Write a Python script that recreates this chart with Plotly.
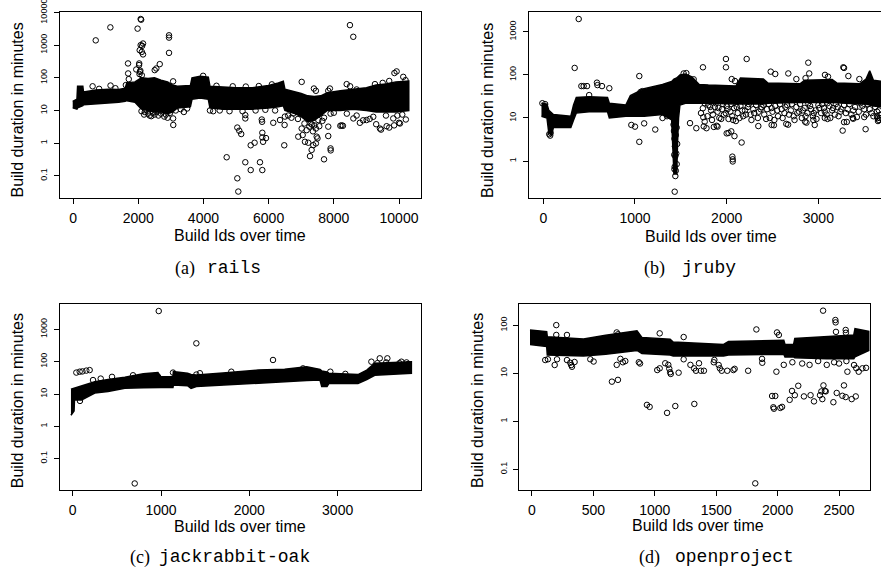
import plotly.graph_objects as go

W, H = 881, 577

# ---------------- (a) rails ----------------
rails_band_x  = [-10, 120, 140, 300, 320, 700, 1100, 1400, 1600, 1650, 1900, 2000, 2100, 2300, 2500, 2700, 2900, 3050, 3200, 3600, 3650, 3900, 4150, 4200, 4600, 5000, 5500, 6000, 6300, 6450, 6500, 6800, 7000, 7200, 7400, 7600, 7800, 8200, 8600, 9000, 9300, 9600, 9900, 10300]
rails_band_lo = [12, 11, 12, 14, 15, 16, 17, 18, 19, 20, 18, 14, 11, 10, 9, 9, 8, 9, 12, 13, 22, 24, 22, 12, 11, 11, 11, 12, 13, 14, 10, 8, 6.5, 4.5, 5, 7, 10, 10, 11, 10, 9, 9, 9, 10]
rails_band_hi = [19, 22, 55, 55, 37, 42, 45, 44, 48, 70, 75, 85, 100, 95, 100, 85, 75, 60, 55, 58, 100, 112, 105, 55, 52, 50, 50, 58, 70, 78, 45, 38, 33, 28, 27, 28, 35, 40, 45, 50, 60, 65, 75, 80]
rails_pts = [
    (696, 1400), (1145, 3500), (1687, 275), (1690, 136), (1710, 91), (1940, 180), (1980, 3200),
    (2025, 245), (2030, 275), (2050, 152), (2040, 130), (2075, 6300), (2090, 6000), (2075, 1000),
    (2147, 1120), (2120, 950), (2045, 700), (2110, 620), (2147, 520), (2065, 165), (2110, 120),
    (2505, 172), (2555, 193), (2660, 262), (2945, 2000), (2945, 1700), (2945, 580), (3070, 78),
    (3990, 115), (8495, 4100), (8597, 1800), (7015, 75), (7390, 47), (7450, 40), (7880, 47),
    (7830, 40), (8395, 64), (8500, 55), (8700, 44), (9262, 64), (9927, 157), (9860, 140),
    (10130, 107), (10200, 85), (9700, 80), (9500, 70), (600, 55), (1150, 58), (1620, 60),
    (2400, 6.7), (2300, 8), (2450, 8.5), (2200, 9), (2700, 8), (2850, 7.5), (3070, 5.7),
    (3075, 3.6), (3400, 9), (4200, 10), (4713, 0.37), (5040, 3.0), (5100, 2.4), (5160, 1.9),
    (5040, 0.084), (5070, 0.033), (5285, 7.2), (5285, 5.7), (5285, 0.26), (5450, 0.86),
    (5450, 0.15), (5570, 1.03), (5735, 0.26), (5807, 2.08), (5807, 1.5), (5830, 1.1),
    (5920, 1.43), (5807, 0.15), (5790, 5.3), (5800, 4.5), (6143, 4.2), (6350, 5.1), (6480, 0.86),
    (6490, 3.6), (6500, 6.5), (6757, 8.1), (6600, 7), (6910, 1.58), (7045, 1.77), (7015, 2.8),
    (7115, 1.1), (7217, 1.03), (7167, 2.5), (7270, 0.4), (7320, 0.62), (7370, 0.87), (7450, 0.98),
    (7475, 1.58), (7500, 1.4), (7450, 2.8), (7555, 3.3), (7525, 5.1), (7520, 7.5), (7290, 4),
    (7330, 3.7), (7360, 2.3), (7700, 0.32), (7830, 1.65), (7900, 0.69), (7905, 0.6), (7830, 3.2),
    (7700, 6), (7900, 8), (8200, 3.4), (8240, 3.5), (8280, 3.4), (8400, 8), (8600, 5.7),
    (8800, 4.2), (8700, 7), (9006, 5.1), (9210, 6.4), (9415, 2.8), (9450, 2.6), (9620, 3.3),
    (9825, 5.7), (10030, 4), (10210, 5.3), (9950, 7), (9100, 5.5), (8900, 5), (9300, 3.8),
    (9700, 3), (9850, 3.5), (10000, 4.2), (10100, 7.5), (9600, 7),
    (2100, 9.5), (2180, 7.5), (2250, 10.5), (2350, 7), (2500, 7.5), (2560, 9), (2620, 7),
    (2750, 9.5), (2800, 6.5), (2900, 6), (2980, 8.5), (3150, 10), (3300, 11), (3500, 11.5),
    (4300, 9.5), (4500, 10), (4800, 9.5), (5200, 9.5), (5600, 10), (5900, 10.5), (6200, 10),
    (6700, 6), (6900, 5.5), (7100, 4), (7250, 3.2), (7400, 3.5), (7650, 4.8), (8000, 8.5),
    (4400, 57), (4900, 55), (5300, 54), (5700, 56), (6100, 63), (800, 46), (1300, 48),
]

# ---------------- (b) jruby ----------------
jruby_band_x  = [-20, 40, 60, 90, 110, 300, 330, 360, 500, 700, 720, 900, 950, 1100, 1300, 1400, 1415, 1425, 1455, 1465, 1475, 1490, 1550, 1620, 1700, 1800, 2100, 2150, 2400, 2450, 2800, 2850, 3150, 3200, 3450, 3520, 3560, 3600, 3700]
jruby_band_lo = [11, 10, 4.5, 4, 6, 6, 9, 13, 14, 14, 10, 11, 11, 11, 12, 9, 2, 0.5, 0.5, 3, 10, 20, 22, 22, 22, 22, 21, 21, 21, 22, 23, 23, 23, 22, 21, 21, 20, 19, 18]
jruby_band_hi = [22, 21, 15, 13, 12, 11, 20, 30, 31, 30, 22, 20, 33, 48, 60, 70, 75, 80, 85, 90, 95, 100, 105, 90, 60, 58, 55, 85, 80, 65, 62, 75, 78, 65, 62, 80, 125, 75, 70]
jruby_pts = [
    (342, 145), (386, 1980), (415, 55), (440, 55), (477, 55), (500, 34), (585, 66), (590, 58),
    (640, 55), (720, 49), (960, 6.9), (1000, 6.3), (1047, 2.8), (1047, 94), (1221, 5.4),
    (1100, 7.5), (1080, 42), (1060, 40), (1531, 108), (1560, 110), (1640, 79), (1741, 150),
    (1745, 10.4), (1750, 6.4), (1669, 5.8), (1600, 7.6), (1992, 234), (1992, 150), (2218, 234),
    (2055, 80), (2090, 72), (2480, 119), (2530, 105), (2672, 108), (2760, 80), (2890, 192),
    (2900, 108), (2860, 84), (3072, 100), (3105, 91), (3272, 150), (3280, 145), (3327, 94),
    (3447, 80), (1740, 16.8), (1760, 8.2), (1780, 5.8), (1860, 6.2), (1890, 6.6), (1900, 6.3),
    (2000, 4.4), (2020, 4.5), (2050, 4.9), (2085, 3.8), (2163, 2.7), (2062, 1.27), (2066, 1.1),
    (2066, 0.98), (2345, 6.5), (2490, 6.9), (2515, 6.8), (2650, 7.3), (2670, 7.0), (2855, 8.2),
    (2870, 7.8), (2945, 9), (2960, 6.9), (3070, 10), (3100, 9.5), (3265, 5.1), (3280, 8),
    (3310, 8.1), (3375, 10), (3380, 9.6), (3515, 5.5), (3500, 10.5), (3640, 11), (3650, 8.5),
    (3660, 9), (3645, 10), (1420, 7), (1425, 5), (1430, 3.3), (1435, 2.2), (1428, 1.4),
    (1440, 1.3), (1433, 0.74), (1445, 0.6), (1430, 0.65), (1440, 0.45), (1433, 0.195),
    (1455, 0.85), (1450, 1.5), (1460, 2.5), (1445, 4), (1455, 6), (-10, 22), (20, 21), (65, 4.2),
    (75, 3.9), (80, 4.5), (1300, 10), (1350, 11),
    (1800, 20), (1830, 15), (1850, 12), (1870, 18), (1900, 14), (1920, 10), (1950, 16), (1970, 12),
    (2000, 19), (2020, 9.5), (2040, 14), (2060, 11), (2080, 17), (2100, 8.5), (2120, 13),
    (2150, 19), (2180, 11), (2200, 15), (2230, 18), (2260, 12), (2290, 16), (2320, 20),
    (2350, 14), (2380, 18), (2410, 12), (2440, 16), (2470, 10), (2500, 14), (2530, 19),
    (2560, 11), (2600, 16), (2630, 13), (2660, 20), (2700, 15), (2730, 11), (2760, 18),
    (2790, 14), (2820, 10), (2850, 17), (2880, 13), (2910, 19), (2940, 11), (2970, 15),
    (3000, 20), (3030, 13), (3060, 17), (3090, 12), (3120, 19), (3150, 15), (3180, 12),
    (3210, 18), (3240, 14), (3280, 20), (3320, 16), (3360, 12), (3400, 18), (3440, 14),
    (3480, 19), (3520, 12), (3560, 16), (3600, 11), (3640, 14), (3670, 10),
    (1720, 13), (1760, 22), (1790, 11), (1820, 18), (1840, 9), (1880, 22), (1910, 17), (1940, 9.5),
    (1960, 21), (1990, 13), (2010, 16), (2050, 21), (2070, 9), (2110, 18), (2140, 10), (2170, 15),
    (2210, 12), (2240, 21), (2270, 9), (2300, 13), (2340, 10), (2370, 16), (2400, 20), (2430, 9.5),
    (2460, 21), (2490, 17), (2520, 9), (2550, 15), (2580, 21), (2610, 10), (2640, 18), (2680, 12),
    (2710, 21), (2740, 9), (2770, 13), (2800, 21), (2830, 15), (2860, 11), (2890, 22), (2920, 16),
    (2950, 13), (2980, 9.5), (3010, 17), (3040, 21), (3070, 14), (3100, 22), (3130, 10),
    (3160, 17), (3190, 21), (3220, 11), (3250, 16), (3300, 13), (3340, 21), (3380, 15),
    (3420, 10.5), (3460, 22), (3500, 16), (3540, 21), (3580, 13), (3620, 18), (3660, 15), (3680, 12),
]

# ---------------- (c) jackrabbit-oak ----------------
oak_band_x  = [-20, 15, 20, 100, 250, 400, 590, 800, 965, 1000, 1135, 1140, 1300, 1340, 1400, 1700, 2100, 2400, 2650, 2800, 2820, 2880, 2900, 3230, 3330, 3420, 3600, 3835]
oak_band_lo = [2.2, 3, 6.5, 6.5, 10.7, 12, 15, 15.5, 16, 16, 16, 19, 18, 15, 17, 19, 21, 24, 26, 27, 17, 17, 21, 21, 28, 38, 40, 44]
oak_band_hi = [14, 15, 15, 17, 24, 28, 33, 42, 46, 34, 34, 49, 44, 40, 39, 45, 55, 58, 70, 58, 52, 48, 44, 40, 55, 90, 95, 100]
oak_pts = [
    (41, 46), (79, 49), (110, 50), (154, 53), (192, 55), (230, 27), (317, 30), (445, 34),
    (683, 38), (974, 3700), (966, 34), (1136, 46), (1400, 40), (1440, 44), (1400, 370),
    (1796, 49), (2268, 113), (2608, 62), (2917, 49), (3087, 42), (3382, 100), (3477, 127),
    (3563, 127), (3722, 100), (3450, 90), (3550, 95), (3700, 90), (3780, 95), (3800, 85),
    (702, 0.017), (82, 6.1),
]

# ---------------- (d) openproject ----------------
op_band_x  = [-16, 120, 125, 420, 600, 855, 895, 1125, 1150, 1560, 1600, 2050, 2060, 2130, 2140, 2400, 2620, 2630, 2742]
op_band_lo = [40, 36, 24, 23, 25, 30, 26, 24, 23, 23, 24, 25, 22, 22, 21, 20, 20, 22, 30]
op_band_hi = [80, 74, 58, 52, 62, 77, 56, 51, 45, 40, 46, 49, 40, 40, 53, 58, 63, 85, 75]
op_pts = [
    (198, 101), (198, 63), (285, 63), (690, 71), (700, 65), (1040, 68), (1235, 57),
    (108, 18.9), (130, 19.6), (185, 14.9), (204, 19.6), (285, 18.9), (312, 16.6), (320, 14.9),
    (326, 13.7), (347, 17.2), (475, 19.6), (502, 17.6), (651, 6.7), (700, 7.3), (690, 15),
    (720, 20), (740, 17), (760, 18), (870, 17), (880, 16), (936, 2.2), (958, 2.0), (1020, 11.7),
    (1040, 12.7), (1085, 16.2), (1110, 15), (1118, 12.5), (1125, 10.5), (1130, 9.7), (1100, 1.5),
    (1167, 2.08), (1322, 2.3), (1194, 10.3), (1235, 19.6), (1290, 15), (1320, 12.7),
    (1335, 11.3), (1360, 16.2), (1375, 11.3), (1400, 11.3), (1480, 17), (1485, 19),
    (1520, 14.9), (1530, 12.7), (1545, 11.3), (1590, 11.3), (1640, 11.7), (1650, 12.4),
    (1760, 11.3), (1827, 82), (1818, 0.051), (1873, 20), (1875, 16.6), (1955, 3.37),
    (1981, 3.37), (1965, 1.96), (1970, 1.83), (2022, 1.9), (2036, 2.0), (1990, 10.8),
    (1995, 71), (2010, 63), (2098, 2.8), (2117, 4.3), (2140, 3.5), (2168, 5.5), (2214, 3.3),
    (2268, 3.5), (2296, 2.6), (2345, 3.5), (2356, 4.2), (2364, 2.9), (2373, 5.6), (2385, 4.3),
    (2392, 4.2), (2454, 2.5), (2481, 3.9), (2527, 3.4), (2540, 5.6), (2554, 3.2), (2603, 2.9),
    (2636, 3.3), (2370, 202), (2470, 129), (2472, 115), (2475, 73), (2554, 80), (2556, 70),
    (2622, 14.9), (2640, 12.8), (2660, 10.8), (2690, 12.7), (2568, 10.8), (2050, 15),
    (2120, 17), (2200, 16), (2260, 15), (2330, 18), (2400, 15), (2460, 17), (2500, 16),
    (2560, 18), (2720, 13),
]


def px(x):
    return x / W


def py(y):
    return 1 - y / H


panels = [
    dict(band=(rails_band_x, rails_band_lo, rails_band_hi), pts=rails_pts,
         xd=(60, 421), yd=(12.3, 198.3), xr=[-400, 10675], yr=[-1.688, 4.005],
         xt=[0, 2000, 4000, 6000, 8000, 10000], yt=[0.1, 1, 10, 100, 1000, 10000],
         ytl=["0.1", "1", "10", "100", "1000", "10000"], mirror=True,
         ytitle=(17.5, 110), xtitle=(240, 235), cap=(197, 205, 268), lab="(a)", name="rails"),
    dict(band=(jruby_band_x, jruby_band_lo, jruby_band_hi), pts=jruby_pts,
         xd=(529, 881), yd=(12.3, 198.3), xr=[-156, 3683], yr=[-0.863, 3.452],
         xt=[0, 1000, 2000, 3000], yt=[1, 10, 100, 1000],
         ytl=["1", "10", "100", "1000"], mirror=False,
         ytitle=(487.5, 110.5), xtitle=(711, 236.5), cap=(667, 680, 268), lab="(b)", name="jruby"),
    dict(band=(oak_band_x, oak_band_lo, oak_band_hi), pts=oak_pts,
         xd=(60, 421), yd=(304, 490), xr=[-144, 3944], yr=[-1.972, 3.786],
         xt=[0, 1000, 2000, 3000], yt=[0.1, 1, 10, 100, 1000],
         ytl=["0.1", "1", "10", "100", "1000"], mirror=True,
         ytitle=(17.5, 400.7), xtitle=(240, 526.5), cap=(152, 157, 557), lab="(c)", name="jackrabbit-oak"),
    dict(band=(op_band_x, op_band_lo, op_band_hi), pts=op_pts,
         xd=(519.3, 870), yd=(304, 490), xr=[-103, 2752], yr=[-1.431, 2.444],
         xt=[0, 500, 1000, 1500, 2000, 2500], yt=[0.1, 1, 10, 100],
         ytl=["0.1", "1", "10", "100"], mirror=True,
         ytitle=(477.5, 400.5), xtitle=(698, 525.5), cap=(662, 673, 557), lab="(d)", name="openproject"),
]

fig = go.Figure()
annotations = []
SANS = "Liberation Sans, Arial, Helvetica, sans-serif"

for i, p in enumerate(panels, start=1):
    xa = "x" if i == 1 else f"x{i}"
    ya = "y" if i == 1 else f"y{i}"
    bx, blo, bhi = p["band"]
    poly_x = list(bx) + list(reversed(bx))
    poly_y = list(bhi) + list(reversed(blo))
    fig.add_trace(go.Scatter(x=poly_x, y=poly_y, mode="lines", fill="toself",
                             fillcolor="black", line=dict(color="black", width=1.5),
                             xaxis=xa, yaxis=ya, hoverinfo="skip", showlegend=False))
    fig.add_trace(go.Scatter(x=[q[0] for q in p["pts"]], y=[q[1] for q in p["pts"]],
                             mode="markers",
                             marker=dict(symbol="circle-open", size=5.5, color="black",
                                         line=dict(width=1, color="black")),
                             xaxis=xa, yaxis=ya, hoverinfo="skip", showlegend=False))
    xkey = "xaxis" if i == 1 else f"xaxis{i}"
    ykey = "yaxis" if i == 1 else f"yaxis{i}"
    fig.layout[xkey] = dict(
        domain=[px(p["xd"][0]), min(1.0, px(p["xd"][1]))], range=p["xr"], anchor=ya,
        automargin=False, ticklabeloverflow="allow",
        showgrid=False, zeroline=False, showline=True, linecolor="black", linewidth=1,
        mirror=True, ticks="outside", ticklen=5, tickwidth=1, tickcolor="black",
        tickvals=p["xt"], ticktext=[str(v) for v in p["xt"]],
        tickfont=dict(family=SANS, size=14, color="black"), ticklabelstandoff=2)
    fig.layout[ykey] = dict(
        domain=[py(p["yd"][1]), py(p["yd"][0])], type="log", range=p["yr"], anchor=xa,
        automargin=False, ticklabeloverflow="allow",
        showgrid=False, zeroline=False, showline=True, linecolor="black", linewidth=1,
        mirror=p["mirror"], ticks="outside", ticklen=5, tickwidth=1, tickcolor="black",
        tickvals=p["yt"], ticktext=p["ytl"], tickangle=-90,
        tickfont=dict(family=SANS, size=9, color="black"), ticklabelstandoff=3)
    annotations.append(dict(text="Build duration in minutes", textangle=-90,
                            x=px(p["ytitle"][0]), y=py(p["ytitle"][1]), xref="paper", yref="paper",
                            xanchor="center", yanchor="middle", showarrow=False,
                            font=dict(family=SANS, size=16, color="black")))
    annotations.append(dict(text="Build Ids over time",
                            x=px(p["xtitle"][0]), y=py(p["xtitle"][1]), xref="paper", yref="paper",
                            xanchor="center", yanchor="middle", showarrow=False,
                            font=dict(family=SANS, size=16, color="black")))
    annotations.append(dict(text=p["lab"], x=px(p["cap"][0]), y=py(p["cap"][2]),
                            xref="paper", yref="paper", xanchor="right", yanchor="middle",
                            showarrow=False,
                            font=dict(family="Liberation Serif, DejaVu Serif, serif", size=18, color="black")))
    annotations.append(dict(text=p["name"], x=px(p["cap"][1]), y=py(p["cap"][2]),
                            xref="paper", yref="paper", xanchor="left", yanchor="middle",
                            showarrow=False,
                            font=dict(family="Liberation Mono, DejaVu Sans Mono, monospace", size=18, color="black")))

fig.update_layout(width=W, height=H, margin=dict(l=0, r=0, t=0, b=0, autoexpand=False),
                  paper_bgcolor="white", plot_bgcolor="white",
                  annotations=annotations, hovermode=False)

fig.write_html("out.html", config={"displayModeBar": False},
               post_script="document.body.style.margin='0px';document.body.style.padding='0px';")
